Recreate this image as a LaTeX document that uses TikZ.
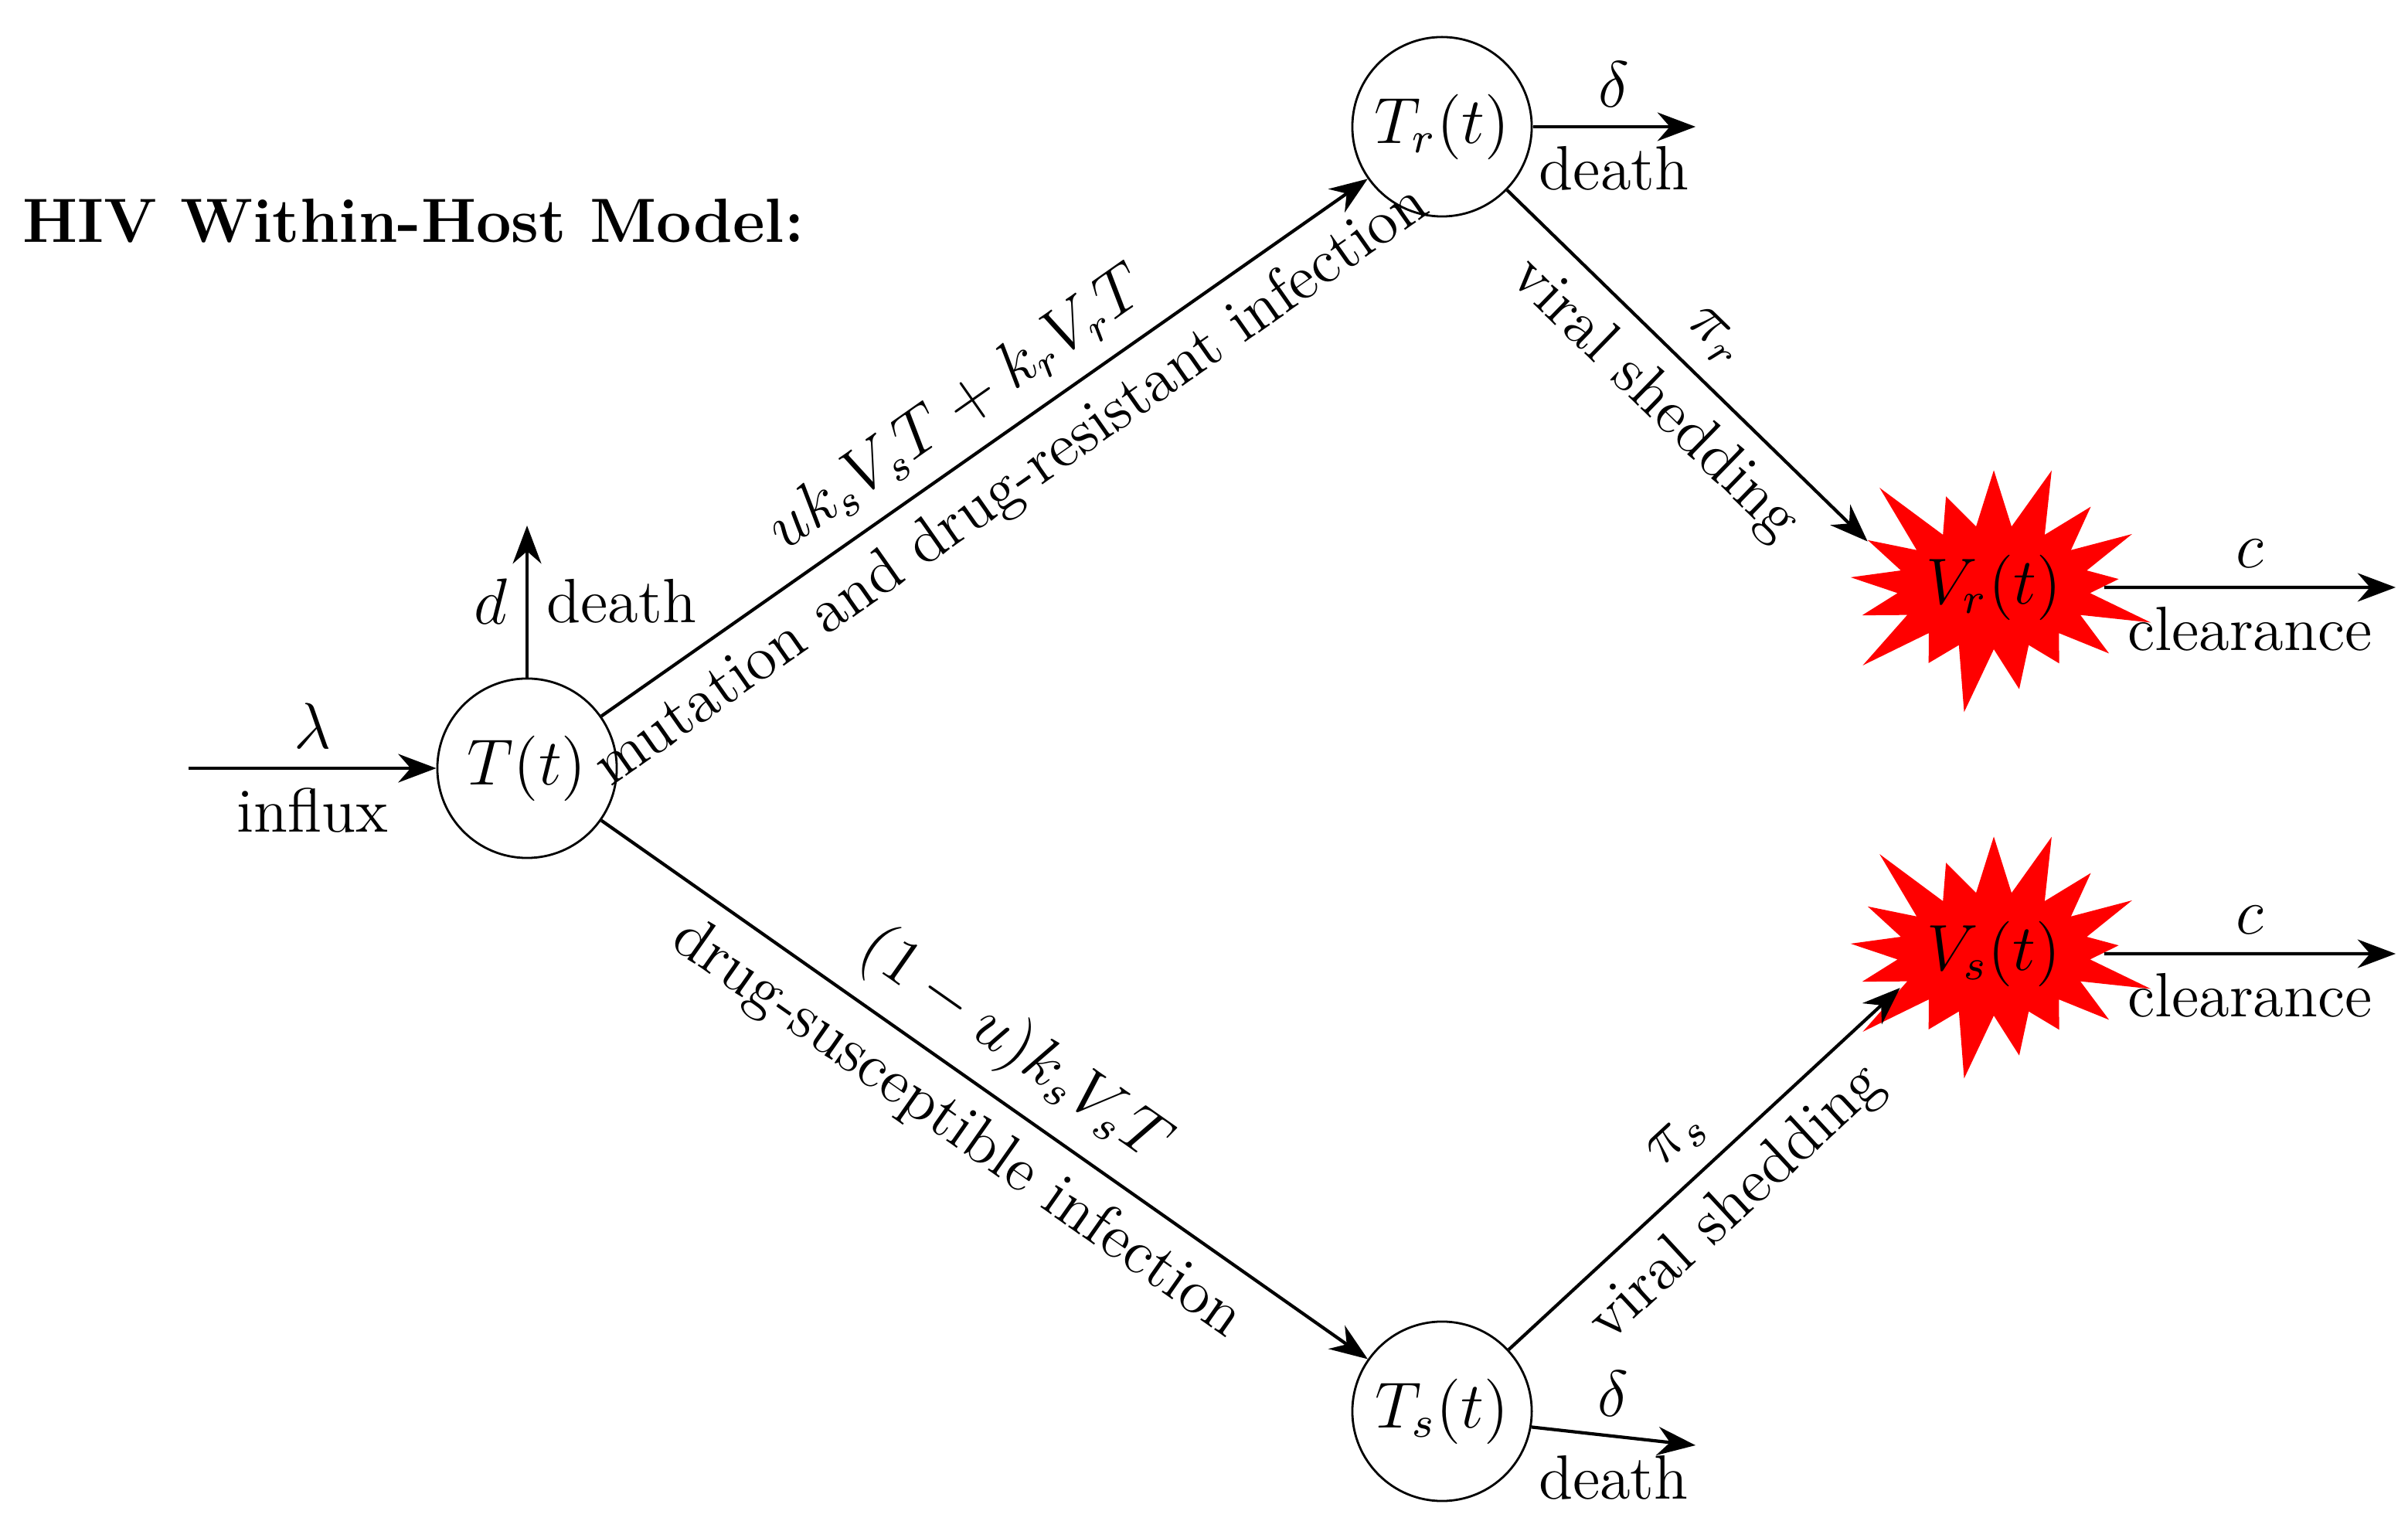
\documentclass[tikz,border=0pt]{standalone}
\usetikzlibrary{shapes.symbols,arrows.meta}
\begin{document}
\begin{tikzpicture}[x=0.01cm,y=0.01cm,
  state/.style={circle,draw,minimum size=1.16cm,inner sep=0pt},
  virus/.style={starburst,fill=red,draw=none,minimum width=2.25cm,minimum height=1.8cm,starburst points=17,starburst point height=0.5cm,inner sep=0pt},
  arr/.style={-{Stealth[length=7pt]},semithick},
  every node/.style={font=\fontsize{11.5}{14}\selectfont}]
\useasboundingbox (0,0) rectangle (1558,988);
\node[anchor=west,inner sep=0pt] (title) at (14,845) {\textbf{HIV Within-Host Model:}};
\node[state] (T) at (341,491) {$T(t)$};
\node[state] (Tr) at (933,906) {$T_r(t)$};
\node[state] (Ts) at (933,75) {$T_s(t)$};
\node[virus] (Vr) at (1290,608) {$V_r(t)$};
\node[virus] (Vs) at (1290,371) {$V_s(t)$};
\coordinate (in) at (122,491);
\coordinate (Td) at (341,648);
\coordinate (Trd) at (1097,906);
\coordinate (Tsd) at (1097,53);
\coordinate (Vrc) at (1550,608);
\coordinate (Vsc) at (1550,371);
\draw[arr] (in) -- node[above]{$\lambda$} node[below]{influx} (T);
\draw[arr] (T) -- node[left]{$d$} node[right]{death} (Td);
\draw[arr] (T) -- node[above,sloped]{$uk_sV_sT+k_rV_rT$} node[below,sloped]{mutation and drug-resistant infection} (Tr);
\draw[arr] (T) -- node[above,sloped]{$(1-u)k_sV_sT$} node[below,sloped]{drug-susceptible infection} (Ts);
\draw[arr] (Tr) -- node[above,sloped]{$\pi_r$} node[below,sloped]{viral shedding} (Vr.160);
\draw[arr] (Ts) -- node[above,sloped]{$\pi_s$} node[below,sloped]{viral shedding} (Vs.200);
\draw[arr] (Tr.east) -- node[above]{$\delta$} node[below]{death} (Trd);
\draw[arr] (Ts.-10) -- node[above]{$\delta$} node[below]{death} (Tsd);
\draw[arr] (Vr.east) -- node[above]{$c$} node[below]{clearance} (Vrc);
\draw[arr] (Vs.east) -- node[above]{$c$} node[below]{clearance} (Vsc);
\end{tikzpicture}
\end{document}
